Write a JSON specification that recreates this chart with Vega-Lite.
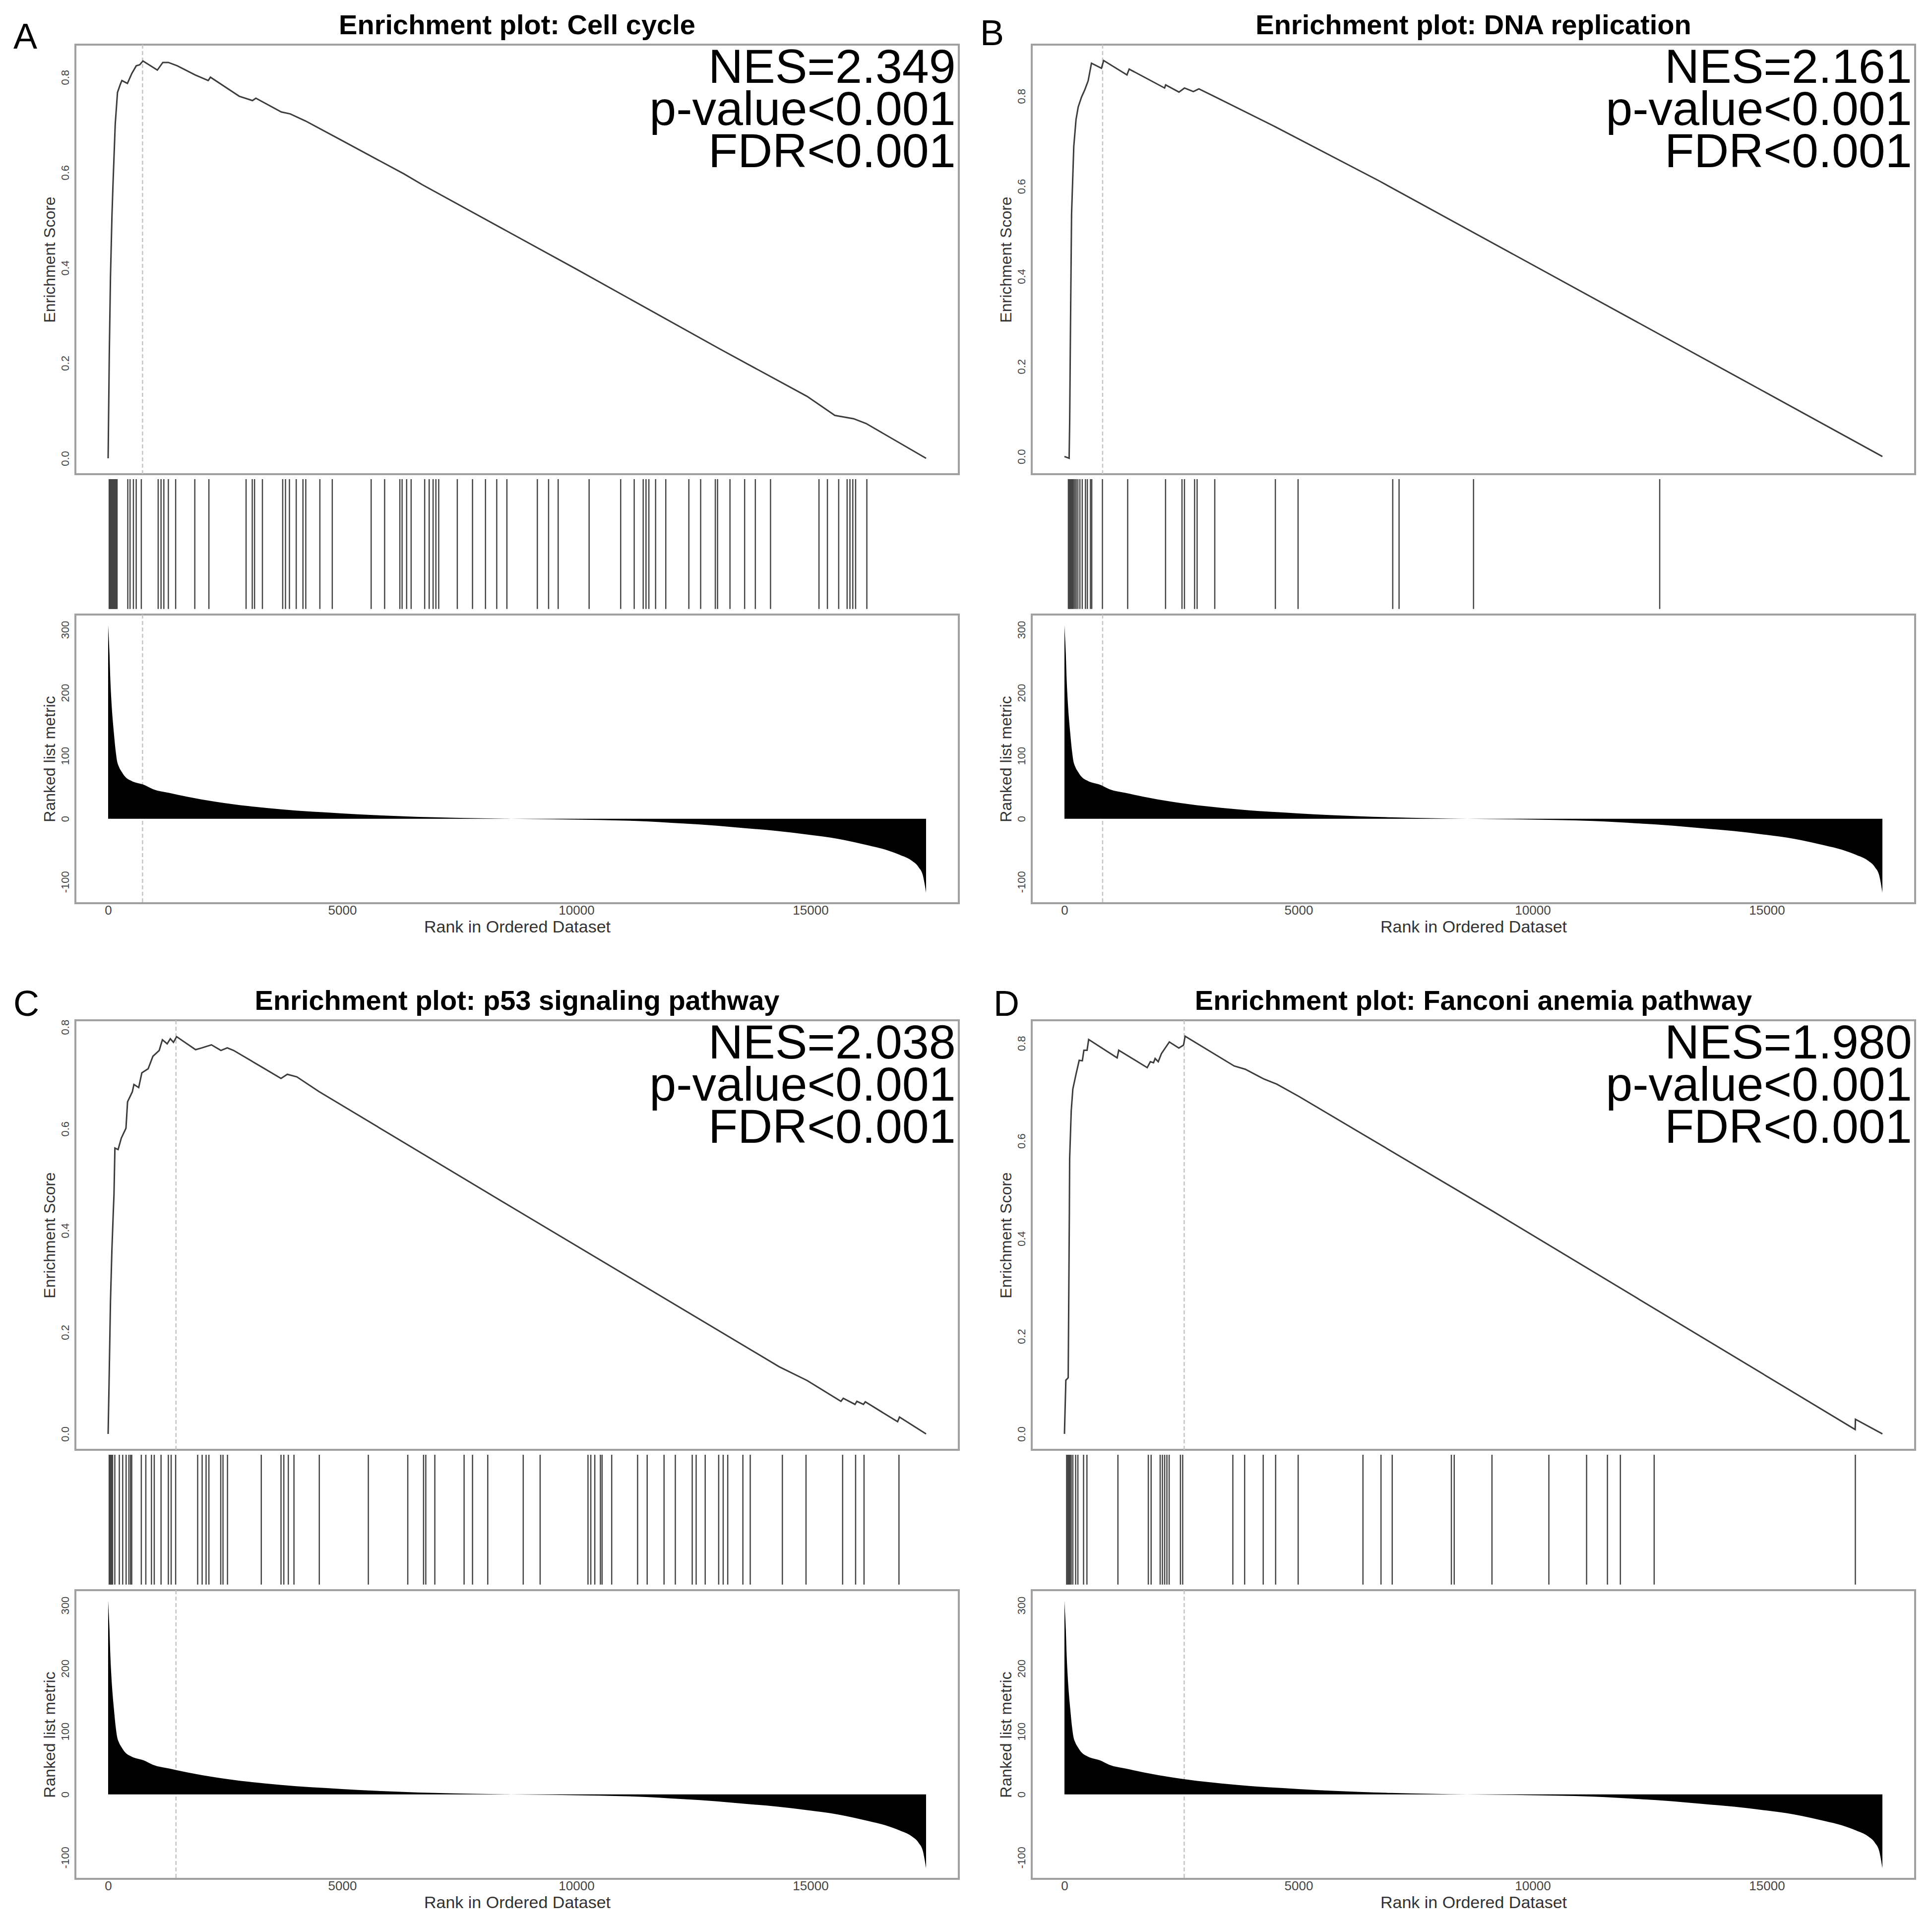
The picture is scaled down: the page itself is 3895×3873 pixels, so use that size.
{
  "$schema": "https://vega.github.io/schema/vega-lite/v6.json",
  "background": "white",
  "padding": {"left": 25, "top": 21, "right": 10, "bottom": 10},
  "autosize": {"type": "pad"},
  "config": {
    "font": "Liberation Sans",
    "view": {"stroke": "#a0a0a0", "strokeWidth": 4},
    "axis": {"grid": false, "ticks": false, "domain": false, "labelFont": "Liberation Sans", "titleFont": "Liberation Sans", "labelColor": "#444", "titleColor": "#333", "titleFontWeight": "normal", "labelExpr": "replace(datum.label, '\u2212', '-')"},
    "axisY": {"labelAngle": -90, "labelAlign": "center", "labelBaseline": "bottom", "labelFontSize": 22, "labelPadding": 9, "titleFontSize": 32, "titlePadding": 0, "minExtent": 35, "maxExtent": 35},
    "axisX": {"labelFontSize": 26, "labelPadding": 1, "titleFontSize": 34, "minExtent": 22, "maxExtent": 22, "titlePadding": 9}
  },
  "datasets": {
    "info": [
      {"p": "A", "letter": "A", "title": "Enrichment plot: Cell cycle", "nes": ["NES=2.349", "p-value<0.001", "FDR<0.001"], "peak": 735},
      {"p": "B", "letter": "B", "title": "Enrichment plot: DNA replication", "nes": ["NES=2.161", "p-value<0.001", "FDR<0.001"], "peak": 815},
      {"p": "C", "letter": "C", "title": "Enrichment plot: p53 signaling pathway", "nes": ["NES=2.038", "p-value<0.001", "FDR<0.001"], "peak": 1449},
      {"p": "D", "letter": "D", "title": "Enrichment plot: Fanconi anemia pathway", "nes": ["NES=1.980", "p-value<0.001", "FDR<0.001"], "peak": 2557}
    ],
    "es": [
      {"p": "A", "rank": 0, "es": 0}, {"p": "A", "rank": 25, "es": 0.22}, {"p": "A", "rank": 50, "es": 0.38}, {"p": "A", "rank": 82, "es": 0.51}, {"p": "A", "rank": 105, "es": 0.578}, {"p": "A", "rank": 152, "es": 0.702}, {"p": "A", "rank": 200, "es": 0.768}, {"p": "A", "rank": 260, "es": 0.785}, {"p": "A", "rank": 294, "es": 0.793}, {"p": "A", "rank": 412, "es": 0.787}, {"p": "A", "rank": 507, "es": 0.808}, {"p": "A", "rank": 601, "es": 0.824}, {"p": "A", "rank": 673, "es": 0.826}, {"p": "A", "rank": 744, "es": 0.834}, {"p": "A", "rank": 1051, "es": 0.815}, {"p": "A", "rank": 1168, "es": 0.831}, {"p": "A", "rank": 1287, "es": 0.831}, {"p": "A", "rank": 1476, "es": 0.824}, {"p": "A", "rank": 1854, "es": 0.805}, {"p": "A", "rank": 2138, "es": 0.793}, {"p": "A", "rank": 2185, "es": 0.8}, {"p": "A", "rank": 2801, "es": 0.76}, {"p": "A", "rank": 3083, "es": 0.751}, {"p": "A", "rank": 3155, "es": 0.756}, {"p": "A", "rank": 3699, "es": 0.727}, {"p": "A", "rank": 3888, "es": 0.723}, {"p": "A", "rank": 4219, "es": 0.708}, {"p": "A", "rank": 4976, "es": 0.668}, {"p": "A", "rank": 6319, "es": 0.597}, {"p": "A", "rank": 6716, "es": 0.574}, {"p": "A", "rank": 10000, "es": 0.397}, {"p": "A", "rank": 13072, "es": 0.229}, {"p": "A", "rank": 14926, "es": 0.13}, {"p": "A", "rank": 15520, "es": 0.09}, {"p": "A", "rank": 15920, "es": 0.083}, {"p": "A", "rank": 16186, "es": 0.073}, {"p": "A", "rank": 17468, "es": 0},
      {"p": "B", "rank": 0, "es": 0}, {"p": "B", "rank": 100, "es": -0.004}, {"p": "B", "rank": 112, "es": 0.08}, {"p": "B", "rank": 130, "es": 0.3}, {"p": "B", "rank": 152, "es": 0.538}, {"p": "B", "rank": 199, "es": 0.688}, {"p": "B", "rank": 247, "es": 0.748}, {"p": "B", "rank": 294, "es": 0.776}, {"p": "B", "rank": 365, "es": 0.798}, {"p": "B", "rank": 434, "es": 0.814}, {"p": "B", "rank": 506, "es": 0.834}, {"p": "B", "rank": 577, "es": 0.873}, {"p": "B", "rank": 790, "es": 0.862}, {"p": "B", "rank": 837, "es": 0.879}, {"p": "B", "rank": 1335, "es": 0.847}, {"p": "B", "rank": 1382, "es": 0.86}, {"p": "B", "rank": 2139, "es": 0.818}, {"p": "B", "rank": 2161, "es": 0.825}, {"p": "B", "rank": 2446, "es": 0.809}, {"p": "B", "rank": 2563, "es": 0.818}, {"p": "B", "rank": 2753, "es": 0.81}, {"p": "B", "rank": 2871, "es": 0.816}, {"p": "B", "rank": 3226, "es": 0.798}, {"p": "B", "rank": 4502, "es": 0.732}, {"p": "B", "rank": 6716, "es": 0.612}, {"p": "B", "rank": 12712, "es": 0.271}, {"p": "B", "rank": 17468, "es": 0},
      {"p": "C", "rank": 0, "es": 0}, {"p": "C", "rank": 20, "es": 0.1}, {"p": "C", "rank": 50, "es": 0.26}, {"p": "C", "rank": 80, "es": 0.36}, {"p": "C", "rank": 111, "es": 0.438}, {"p": "C", "rank": 125, "es": 0.47}, {"p": "C", "rank": 145, "es": 0.562}, {"p": "C", "rank": 213, "es": 0.559}, {"p": "C", "rank": 281, "es": 0.5815}, {"p": "C", "rank": 381, "es": 0.601}, {"p": "C", "rank": 415, "es": 0.653}, {"p": "C", "rank": 517, "es": 0.6726}, {"p": "C", "rank": 551, "es": 0.687}, {"p": "C", "rank": 653, "es": 0.681}, {"p": "C", "rank": 720, "es": 0.71}, {"p": "C", "rank": 855, "es": 0.718}, {"p": "C", "rank": 956, "es": 0.7425}, {"p": "C", "rank": 1091, "es": 0.754}, {"p": "C", "rank": 1159, "es": 0.775}, {"p": "C", "rank": 1261, "es": 0.767}, {"p": "C", "rank": 1328, "es": 0.777}, {"p": "C", "rank": 1395, "es": 0.77}, {"p": "C", "rank": 1463, "es": 0.781}, {"p": "C", "rank": 1868, "es": 0.7555}, {"p": "C", "rank": 2003, "es": 0.759}, {"p": "C", "rank": 2206, "es": 0.765}, {"p": "C", "rank": 2409, "es": 0.754}, {"p": "C", "rank": 2544, "es": 0.759}, {"p": "C", "rank": 2679, "es": 0.754}, {"p": "C", "rank": 3287, "es": 0.721}, {"p": "C", "rank": 3692, "es": 0.699}, {"p": "C", "rank": 3827, "es": 0.707}, {"p": "C", "rank": 4030, "es": 0.702}, {"p": "C", "rank": 4503, "es": 0.673}, {"p": "C", "rank": 8759, "es": 0.438}, {"p": "C", "rank": 14332, "es": 0.132}, {"p": "C", "rank": 14926, "es": 0.105}, {"p": "C", "rank": 15650, "es": 0.064}, {"p": "C", "rank": 15700, "es": 0.07}, {"p": "C", "rank": 15950, "es": 0.058}, {"p": "C", "rank": 15990, "es": 0.064}, {"p": "C", "rank": 16130, "es": 0.058}, {"p": "C", "rank": 16170, "es": 0.063}, {"p": "C", "rank": 16860, "es": 0.024}, {"p": "C", "rank": 16900, "es": 0.033}, {"p": "C", "rank": 17468, "es": 0},
      {"p": "D", "rank": 0, "es": 0}, {"p": "D", "rank": 30, "es": 0.11}, {"p": "D", "rank": 80, "es": 0.115}, {"p": "D", "rank": 105, "es": 0.455}, {"p": "D", "rank": 111, "es": 0.5637}, {"p": "D", "rank": 145, "es": 0.662}, {"p": "D", "rank": 179, "es": 0.706}, {"p": "D", "rank": 247, "es": 0.7365}, {"p": "D", "rank": 315, "es": 0.765}, {"p": "D", "rank": 382, "es": 0.764}, {"p": "D", "rank": 415, "es": 0.7855}, {"p": "D", "rank": 483, "es": 0.7855}, {"p": "D", "rank": 517, "es": 0.8076}, {"p": "D", "rank": 1125, "es": 0.77}, {"p": "D", "rank": 1159, "es": 0.7855}, {"p": "D", "rank": 1767, "es": 0.75}, {"p": "D", "rank": 1835, "es": 0.762}, {"p": "D", "rank": 1902, "es": 0.76}, {"p": "D", "rank": 1936, "es": 0.7686}, {"p": "D", "rank": 2003, "es": 0.762}, {"p": "D", "rank": 2071, "es": 0.7787}, {"p": "D", "rank": 2240, "es": 0.8025}, {"p": "D", "rank": 2443, "es": 0.79}, {"p": "D", "rank": 2543, "es": 0.796}, {"p": "D", "rank": 2577, "es": 0.8143}, {"p": "D", "rank": 3625, "es": 0.7533}, {"p": "D", "rank": 3861, "es": 0.7466}, {"p": "D", "rank": 4266, "es": 0.7263}, {"p": "D", "rank": 4537, "es": 0.716}, {"p": "D", "rank": 5010, "es": 0.6907}, {"p": "D", "rank": 9163, "es": 0.455}, {"p": "D", "rank": 16886, "es": 0.009}, {"p": "D", "rank": 16892, "es": 0.03}, {"p": "D", "rank": 17468, "es": 0}
    ],
    "hits": [
      {"p": "A", "rank": 23}, {"p": "A", "rank": 35}, {"p": "A", "rank": 47}, {"p": "A", "rank": 59}, {"p": "A", "rank": 71}, {"p": "A", "rank": 83}, {"p": "A", "rank": 95}, {"p": "A", "rank": 107}, {"p": "A", "rank": 119}, {"p": "A", "rank": 131}, {"p": "A", "rank": 143}, {"p": "A", "rank": 155}, {"p": "A", "rank": 167}, {"p": "A", "rank": 179}, {"p": "A", "rank": 191}, {"p": "A", "rank": 420}, {"p": "A", "rank": 468}, {"p": "A", "rank": 540}, {"p": "A", "rank": 600}, {"p": "A", "rank": 709}, {"p": "A", "rank": 1069}, {"p": "A", "rank": 1130}, {"p": "A", "rank": 1190}, {"p": "A", "rank": 1286}, {"p": "A", "rank": 1442}, {"p": "A", "rank": 1851}, {"p": "A", "rank": 2152}, {"p": "A", "rank": 2946}, {"p": "A", "rank": 3078}, {"p": "A", "rank": 3127}, {"p": "A", "rank": 3295}, {"p": "A", "rank": 3728}, {"p": "A", "rank": 3788}, {"p": "A", "rank": 3872}, {"p": "A", "rank": 4017}, {"p": "A", "rank": 4161}, {"p": "A", "rank": 4221}, {"p": "A", "rank": 4522}, {"p": "A", "rank": 4787}, {"p": "A", "rank": 5617}, {"p": "A", "rank": 5905}, {"p": "A", "rank": 6230}, {"p": "A", "rank": 6278}, {"p": "A", "rank": 6375}, {"p": "A", "rank": 6471}, {"p": "A", "rank": 6760}, {"p": "A", "rank": 6856}, {"p": "A", "rank": 6940}, {"p": "A", "rank": 7000}, {"p": "A", "rank": 7060}, {"p": "A", "rank": 7457}, {"p": "A", "rank": 7782}, {"p": "A", "rank": 8059}, {"p": "A", "rank": 8299}, {"p": "A", "rank": 8516}, {"p": "A", "rank": 9166}, {"p": "A", "rank": 9406}, {"p": "A", "rank": 9611}, {"p": "A", "rank": 10272}, {"p": "A", "rank": 10946}, {"p": "A", "rank": 11235}, {"p": "A", "rank": 11427}, {"p": "A", "rank": 11487}, {"p": "A", "rank": 11548}, {"p": "A", "rank": 11692}, {"p": "A", "rank": 11909}, {"p": "A", "rank": 12402}, {"p": "A", "rank": 12654}, {"p": "A", "rank": 12967}, {"p": "A", "rank": 13015}, {"p": "A", "rank": 13280}, {"p": "A", "rank": 13593}, {"p": "A", "rank": 13822}, {"p": "A", "rank": 14146}, {"p": "A", "rank": 15181}, {"p": "A", "rank": 15361}, {"p": "A", "rank": 15602}, {"p": "A", "rank": 15782}, {"p": "A", "rank": 15842}, {"p": "A", "rank": 15903}, {"p": "A", "rank": 15963}, {"p": "A", "rank": 16203},
      {"p": "B", "rank": 84}, {"p": "B", "rank": 100}, {"p": "B", "rank": 115}, {"p": "B", "rank": 130}, {"p": "B", "rank": 151}, {"p": "B", "rank": 170}, {"p": "B", "rank": 190}, {"p": "B", "rank": 219}, {"p": "B", "rank": 250}, {"p": "B", "rank": 286}, {"p": "B", "rank": 330}, {"p": "B", "rank": 380}, {"p": "B", "rank": 448}, {"p": "B", "rank": 489}, {"p": "B", "rank": 555}, {"p": "B", "rank": 583}, {"p": "B", "rank": 811}, {"p": "B", "rank": 1350}, {"p": "B", "rank": 2159}, {"p": "B", "rank": 2510}, {"p": "B", "rank": 2563}, {"p": "B", "rank": 2779}, {"p": "B", "rank": 2833}, {"p": "B", "rank": 3210}, {"p": "B", "rank": 4504}, {"p": "B", "rank": 4989}, {"p": "B", "rank": 7011}, {"p": "B", "rank": 7146}, {"p": "B", "rank": 8736}, {"p": "B", "rank": 12712},
      {"p": "C", "rank": 23}, {"p": "C", "rank": 40}, {"p": "C", "rank": 59}, {"p": "C", "rank": 77}, {"p": "C", "rank": 95}, {"p": "C", "rank": 143}, {"p": "C", "rank": 239}, {"p": "C", "rank": 311}, {"p": "C", "rank": 384}, {"p": "C", "rank": 444}, {"p": "C", "rank": 480}, {"p": "C", "rank": 504}, {"p": "C", "rank": 709}, {"p": "C", "rank": 805}, {"p": "C", "rank": 925}, {"p": "C", "rank": 985}, {"p": "C", "rank": 1130}, {"p": "C", "rank": 1286}, {"p": "C", "rank": 1346}, {"p": "C", "rank": 1442}, {"p": "C", "rank": 1912}, {"p": "C", "rank": 2008}, {"p": "C", "rank": 2092}, {"p": "C", "rank": 2152}, {"p": "C", "rank": 2405}, {"p": "C", "rank": 2453}, {"p": "C", "rank": 2549}, {"p": "C", "rank": 3271}, {"p": "C", "rank": 3692}, {"p": "C", "rank": 3752}, {"p": "C", "rank": 3848}, {"p": "C", "rank": 3969}, {"p": "C", "rank": 4510}, {"p": "C", "rank": 5557}, {"p": "C", "rank": 6399}, {"p": "C", "rank": 6736}, {"p": "C", "rank": 6784}, {"p": "C", "rank": 6977}, {"p": "C", "rank": 7602}, {"p": "C", "rank": 7782}, {"p": "C", "rank": 8107}, {"p": "C", "rank": 8865}, {"p": "C", "rank": 9226}, {"p": "C", "rank": 10248}, {"p": "C", "rank": 10308}, {"p": "C", "rank": 10393}, {"p": "C", "rank": 10513}, {"p": "C", "rank": 10549}, {"p": "C", "rank": 10754}, {"p": "C", "rank": 11307}, {"p": "C", "rank": 11512}, {"p": "C", "rank": 11872}, {"p": "C", "rank": 12113}, {"p": "C", "rank": 12474}, {"p": "C", "rank": 12558}, {"p": "C", "rank": 12751}, {"p": "C", "rank": 13039}, {"p": "C", "rank": 13135}, {"p": "C", "rank": 13232}, {"p": "C", "rank": 13556}, {"p": "C", "rank": 13713}, {"p": "C", "rank": 14399}, {"p": "C", "rank": 14904}, {"p": "C", "rank": 15686}, {"p": "C", "rank": 15963}, {"p": "C", "rank": 16143}, {"p": "C", "rank": 16889},
      {"p": "D", "rank": 47}, {"p": "D", "rank": 60}, {"p": "D", "rank": 83}, {"p": "D", "rank": 100}, {"p": "D", "rank": 119}, {"p": "D", "rank": 143}, {"p": "D", "rank": 179}, {"p": "D", "rank": 239}, {"p": "D", "rank": 287}, {"p": "D", "rank": 408}, {"p": "D", "rank": 480}, {"p": "D", "rank": 1142}, {"p": "D", "rank": 1791}, {"p": "D", "rank": 1851}, {"p": "D", "rank": 2044}, {"p": "D", "rank": 2092}, {"p": "D", "rank": 2140}, {"p": "D", "rank": 2188}, {"p": "D", "rank": 2236}, {"p": "D", "rank": 2477}, {"p": "D", "rank": 2525}, {"p": "D", "rank": 3596}, {"p": "D", "rank": 3848}, {"p": "D", "rank": 4245}, {"p": "D", "rank": 4510}, {"p": "D", "rank": 4991}, {"p": "D", "rank": 6375}, {"p": "D", "rank": 6760}, {"p": "D", "rank": 7000}, {"p": "D", "rank": 8263}, {"p": "D", "rank": 8324}, {"p": "D", "rank": 9130}, {"p": "D", "rank": 10345}, {"p": "D", "rank": 11151}, {"p": "D", "rank": 11596}, {"p": "D", "rank": 11872}, {"p": "D", "rank": 12594}, {"p": "D", "rank": 16890}
    ],
    "metric": [
      {"rank": 0, "metric": 307}, {"rank": 15, "metric": 285}, {"rank": 29, "metric": 262}, {"rank": 45, "metric": 225}, {"rank": 69, "metric": 188}, {"rank": 95, "metric": 160}, {"rank": 122, "metric": 137}, {"rank": 162, "metric": 107}, {"rank": 190, "metric": 92}, {"rank": 228, "metric": 83}, {"rank": 294, "metric": 74}, {"rank": 360, "metric": 67}, {"rank": 500, "metric": 60}, {"rank": 757, "metric": 54}, {"rank": 955, "metric": 47}, {"rank": 1300, "metric": 41}, {"rank": 1684, "metric": 35}, {"rank": 2300, "metric": 27}, {"rank": 3008, "metric": 20}, {"rank": 3700, "metric": 15}, {"rank": 4333, "metric": 11.3}, {"rank": 5000, "metric": 8.5}, {"rank": 5657, "metric": 5.8}, {"rank": 6300, "metric": 4}, {"rank": 6981, "metric": 2.3}, {"rank": 7800, "metric": 1}, {"rank": 8600, "metric": 0}, {"rank": 9500, "metric": -0.8}, {"rank": 10500, "metric": -2}, {"rank": 11300, "metric": -3.5}, {"rank": 12278, "metric": -7.5}, {"rank": 13000, "metric": -11}, {"rank": 13602, "metric": -15}, {"rank": 14300, "metric": -19.5}, {"rank": 14926, "metric": -25}, {"rank": 15600, "metric": -32}, {"rank": 16250, "metric": -42.5}, {"rank": 16600, "metric": -49}, {"rank": 16912, "metric": -57.5}, {"rank": 17150, "metric": -66}, {"rank": 17309, "metric": -77}, {"rank": 17400, "metric": -90}, {"rank": 17441, "metric": -105}, {"rank": 17468, "metric": -117}
    ]
  },
  "bounds": "flush",
  "columns": 2,
  "spacing": {"row": 0, "column": 147},
  "resolve": {"scale": {"x": "independent", "y": "independent"}},
  "concat": [
    {
      "width": 1781, "height": 866,
      "layer": [
        {"data": {"name": "info"}, "transform": [{"filter": "datum.p == 'A'"}],
         "mark": {"type": "rule", "color": "#c4c4c4", "strokeWidth": 2.5, "strokeDash": [8, 5]},
         "encoding": {"x": {"field": "peak", "type": "quantitative", "scale": {"domain": [-699, 18167], "nice": false, "zero": false}, "axis": null}}},
        {"data": {"name": "es"}, "transform": [{"filter": "datum.p == 'A'"}],
         "mark": {"type": "line", "color": "#3c3c3c", "strokeWidth": 3},
         "encoding": {
           "x": {"field": "rank", "type": "quantitative"},
           "y": {"field": "es", "type": "quantitative", "scale": {"domain": [-0.0334, 0.8684], "nice": false, "zero": false}, "axis": {"title": "Enrichment Score", "values": [0, 0.2, 0.4, 0.6, 0.8], "format": ".1f"}}}},
        {"data": {"name": "info"}, "transform": [{"filter": "datum.p == 'A'"}],
         "mark": {"type": "text", "align": "right", "baseline": "alphabetic", "fontSize": 97, "lineHeight": 85, "color": "#000"},
         "encoding": {"x": {"datum": 18101}, "y": {"datum": 0.7882}, "text": {"field": "nes"}}},
        {"data": {"name": "info"}, "transform": [{"filter": "datum.p == 'A'"}],
         "mark": {"type": "text", "align": "center", "baseline": "alphabetic", "fontSize": 56, "fontWeight": "bold", "color": "#000"},
         "encoding": {"x": {"datum": 8734}, "y": {"datum": 0.8903}, "text": {"field": "title"}}},
        {"data": {"name": "info"}, "transform": [{"filter": "datum.p == 'A'"}],
         "mark": {"type": "text", "align": "left", "baseline": "alphabetic", "fontSize": 72, "color": "#000"},
         "encoding": {"x": {"datum": -2023}, "y": {"datum": 0.86}, "text": {"field": "letter"}}}
      ]
    },
    {
      "width": 1781, "height": 866,
      "layer": [
        {"data": {"name": "info"}, "transform": [{"filter": "datum.p == 'B'"}],
         "mark": {"type": "rule", "color": "#c4c4c4", "strokeWidth": 2.5, "strokeDash": [8, 5]},
         "encoding": {"x": {"field": "peak", "type": "quantitative", "scale": {"domain": [-699, 18167], "nice": false, "zero": false}, "axis": null}}},
        {"data": {"name": "es"}, "transform": [{"filter": "datum.p == 'B'"}],
         "mark": {"type": "line", "color": "#3c3c3c", "strokeWidth": 3},
         "encoding": {
           "x": {"field": "rank", "type": "quantitative"},
           "y": {"field": "es", "type": "quantitative", "scale": {"domain": [-0.0393, 0.9143], "nice": false, "zero": false}, "axis": {"title": "Enrichment Score", "values": [0, 0.2, 0.4, 0.6, 0.8], "format": ".1f"}}}},
        {"data": {"name": "info"}, "transform": [{"filter": "datum.p == 'B'"}],
         "mark": {"type": "text", "align": "right", "baseline": "alphabetic", "fontSize": 97, "lineHeight": 85, "color": "#000"},
         "encoding": {"x": {"datum": 18101}, "y": {"datum": 0.8295}, "text": {"field": "nes"}}},
        {"data": {"name": "info"}, "transform": [{"filter": "datum.p == 'B'"}],
         "mark": {"type": "text", "align": "center", "baseline": "alphabetic", "fontSize": 56, "fontWeight": "bold", "color": "#000"},
         "encoding": {"x": {"datum": 8734}, "y": {"datum": 0.9374}, "text": {"field": "title"}}},
        {"data": {"name": "info"}, "transform": [{"filter": "datum.p == 'B'"}],
         "mark": {"type": "text", "align": "left", "baseline": "alphabetic", "fontSize": 72, "color": "#000"},
         "encoding": {"x": {"datum": -1801}, "y": {"datum": 0.9132}, "text": {"field": "letter"}}}
      ]
    },
    {
      "width": 1781, "height": 283, "view": {"stroke": null},
      "data": {"name": "hits"}, "transform": [{"filter": "datum.p == 'A'"}],
      "mark": {"type": "rule", "color": "#444", "strokeWidth": 2.5},
      "encoding": {
        "x": {"field": "rank", "type": "quantitative", "scale": {"domain": [-699, 18167], "nice": false, "zero": false}, "axis": null},
        "y": {"datum": 0.04, "scale": {"domain": [0, 1]}, "axis": null},
        "y2": {"datum": 0.965}}
    },
    {
      "width": 1781, "height": 283, "view": {"stroke": null},
      "data": {"name": "hits"}, "transform": [{"filter": "datum.p == 'B'"}],
      "mark": {"type": "rule", "color": "#444", "strokeWidth": 2.5},
      "encoding": {
        "x": {"field": "rank", "type": "quantitative", "scale": {"domain": [-699, 18167], "nice": false, "zero": false}, "axis": null},
        "y": {"datum": 0.04, "scale": {"domain": [0, 1]}, "axis": null},
        "y2": {"datum": 0.965}}
    },
    {
      "width": 1781, "height": 582,
      "layer": [
        {"data": {"name": "info"}, "transform": [{"filter": "datum.p == 'A'"}],
         "mark": {"type": "rule", "color": "#c4c4c4", "strokeWidth": 2.5, "strokeDash": [8, 5]},
         "encoding": {"x": {"field": "peak", "type": "quantitative", "scale": {"domain": [-699, 18167], "nice": false, "zero": false}, "axis": {"title": "Rank in Ordered Dataset", "values": [0, 5000, 10000, 15000], "format": "d"}}}},
        {"data": {"name": "metric"},
         "mark": {"type": "area", "color": "#000", "interpolate": "monotone"},
         "encoding": {
           "x": {"field": "rank", "type": "quantitative"},
           "y": {"field": "metric", "type": "quantitative", "scale": {"domain": [-134, 324], "nice": false, "zero": false}, "axis": {"title": "Ranked list metric", "values": [-100, 0, 100, 200, 300]}},
           "y2": {"datum": 0}}}
      ]
    },
    {
      "width": 1781, "height": 582,
      "layer": [
        {"data": {"name": "info"}, "transform": [{"filter": "datum.p == 'B'"}],
         "mark": {"type": "rule", "color": "#c4c4c4", "strokeWidth": 2.5, "strokeDash": [8, 5]},
         "encoding": {"x": {"field": "peak", "type": "quantitative", "scale": {"domain": [-699, 18167], "nice": false, "zero": false}, "axis": {"title": "Rank in Ordered Dataset", "values": [0, 5000, 10000, 15000], "format": "d"}}}},
        {"data": {"name": "metric"},
         "mark": {"type": "area", "color": "#000", "interpolate": "monotone"},
         "encoding": {
           "x": {"field": "rank", "type": "quantitative"},
           "y": {"field": "metric", "type": "quantitative", "scale": {"domain": [-134, 324], "nice": false, "zero": false}, "axis": {"title": "Ranked list metric", "values": [-100, 0, 100, 200, 300]}},
           "y2": {"datum": 0}}}
      ]
    },
    {
      "width": 1781, "height": 236, "view": {"stroke": null},
      "data": {"values": []},
      "mark": "point"
    },
    {
      "width": 1781, "height": 236, "view": {"stroke": null},
      "data": {"values": []},
      "mark": "point"
    },
    {
      "width": 1781, "height": 866,
      "layer": [
        {"data": {"name": "info"}, "transform": [{"filter": "datum.p == 'C'"}],
         "mark": {"type": "rule", "color": "#c4c4c4", "strokeWidth": 2.5, "strokeDash": [8, 5]},
         "encoding": {"x": {"field": "peak", "type": "quantitative", "scale": {"domain": [-699, 18167], "nice": false, "zero": false}, "axis": null}}},
        {"data": {"name": "es"}, "transform": [{"filter": "datum.p == 'C'"}],
         "mark": {"type": "line", "color": "#3c3c3c", "strokeWidth": 3},
         "encoding": {
           "x": {"field": "rank", "type": "quantitative"},
           "y": {"field": "es", "type": "quantitative", "scale": {"domain": [-0.0313, 0.8133], "nice": false, "zero": false}, "axis": {"title": "Enrichment Score", "values": [0, 0.2, 0.4, 0.6, 0.8], "format": ".1f"}}}},
        {"data": {"name": "info"}, "transform": [{"filter": "datum.p == 'C'"}],
         "mark": {"type": "text", "align": "right", "baseline": "alphabetic", "fontSize": 97, "lineHeight": 85, "color": "#000"},
         "encoding": {"x": {"datum": 18101}, "y": {"datum": 0.7382}, "text": {"field": "nes"}}},
        {"data": {"name": "info"}, "transform": [{"filter": "datum.p == 'C'"}],
         "mark": {"type": "text", "align": "center", "baseline": "alphabetic", "fontSize": 56, "fontWeight": "bold", "color": "#000"},
         "encoding": {"x": {"datum": 8734}, "y": {"datum": 0.8338}, "text": {"field": "title"}}},
        {"data": {"name": "info"}, "transform": [{"filter": "datum.p == 'C'"}],
         "mark": {"type": "text", "align": "left", "baseline": "alphabetic", "fontSize": 72, "color": "#000"},
         "encoding": {"x": {"datum": -2023}, "y": {"datum": 0.8221}, "text": {"field": "letter"}}}
      ]
    },
    {
      "width": 1781, "height": 866,
      "layer": [
        {"data": {"name": "info"}, "transform": [{"filter": "datum.p == 'D'"}],
         "mark": {"type": "rule", "color": "#c4c4c4", "strokeWidth": 2.5, "strokeDash": [8, 5]},
         "encoding": {"x": {"field": "peak", "type": "quantitative", "scale": {"domain": [-699, 18167], "nice": false, "zero": false}, "axis": null}}},
        {"data": {"name": "es"}, "transform": [{"filter": "datum.p == 'D'"}],
         "mark": {"type": "line", "color": "#3c3c3c", "strokeWidth": 3},
         "encoding": {
           "x": {"field": "rank", "type": "quantitative"},
           "y": {"field": "es", "type": "quantitative", "scale": {"domain": [-0.0326, 0.8469], "nice": false, "zero": false}, "axis": {"title": "Enrichment Score", "values": [0, 0.2, 0.4, 0.6, 0.8], "format": ".1f"}}}},
        {"data": {"name": "info"}, "transform": [{"filter": "datum.p == 'D'"}],
         "mark": {"type": "text", "align": "right", "baseline": "alphabetic", "fontSize": 97, "lineHeight": 85, "color": "#000"},
         "encoding": {"x": {"datum": 18101}, "y": {"datum": 0.7687}, "text": {"field": "nes"}}},
        {"data": {"name": "info"}, "transform": [{"filter": "datum.p == 'D'"}],
         "mark": {"type": "text", "align": "center", "baseline": "alphabetic", "fontSize": 56, "fontWeight": "bold", "color": "#000"},
         "encoding": {"x": {"datum": 8734}, "y": {"datum": 0.8682}, "text": {"field": "title"}}},
        {"data": {"name": "info"}, "transform": [{"filter": "datum.p == 'D'"}],
         "mark": {"type": "text", "align": "left", "baseline": "alphabetic", "fontSize": 72, "color": "#000"},
         "encoding": {"x": {"datum": -1515}, "y": {"datum": 0.856}, "text": {"field": "letter"}}}
      ]
    },
    {
      "width": 1781, "height": 283, "view": {"stroke": null},
      "data": {"name": "hits"}, "transform": [{"filter": "datum.p == 'C'"}],
      "mark": {"type": "rule", "color": "#444", "strokeWidth": 2.5},
      "encoding": {
        "x": {"field": "rank", "type": "quantitative", "scale": {"domain": [-699, 18167], "nice": false, "zero": false}, "axis": null},
        "y": {"datum": 0.04, "scale": {"domain": [0, 1]}, "axis": null},
        "y2": {"datum": 0.965}}
    },
    {
      "width": 1781, "height": 283, "view": {"stroke": null},
      "data": {"name": "hits"}, "transform": [{"filter": "datum.p == 'D'"}],
      "mark": {"type": "rule", "color": "#444", "strokeWidth": 2.5},
      "encoding": {
        "x": {"field": "rank", "type": "quantitative", "scale": {"domain": [-699, 18167], "nice": false, "zero": false}, "axis": null},
        "y": {"datum": 0.04, "scale": {"domain": [0, 1]}, "axis": null},
        "y2": {"datum": 0.965}}
    },
    {
      "width": 1781, "height": 582,
      "layer": [
        {"data": {"name": "info"}, "transform": [{"filter": "datum.p == 'C'"}],
         "mark": {"type": "rule", "color": "#c4c4c4", "strokeWidth": 2.5, "strokeDash": [8, 5]},
         "encoding": {"x": {"field": "peak", "type": "quantitative", "scale": {"domain": [-699, 18167], "nice": false, "zero": false}, "axis": {"title": "Rank in Ordered Dataset", "values": [0, 5000, 10000, 15000], "format": "d"}}}},
        {"data": {"name": "metric"},
         "mark": {"type": "area", "color": "#000", "interpolate": "monotone"},
         "encoding": {
           "x": {"field": "rank", "type": "quantitative"},
           "y": {"field": "metric", "type": "quantitative", "scale": {"domain": [-134, 324], "nice": false, "zero": false}, "axis": {"title": "Ranked list metric", "values": [-100, 0, 100, 200, 300]}},
           "y2": {"datum": 0}}}
      ]
    },
    {
      "width": 1781, "height": 582,
      "layer": [
        {"data": {"name": "info"}, "transform": [{"filter": "datum.p == 'D'"}],
         "mark": {"type": "rule", "color": "#c4c4c4", "strokeWidth": 2.5, "strokeDash": [8, 5]},
         "encoding": {"x": {"field": "peak", "type": "quantitative", "scale": {"domain": [-699, 18167], "nice": false, "zero": false}, "axis": {"title": "Rank in Ordered Dataset", "values": [0, 5000, 10000, 15000], "format": "d"}}}},
        {"data": {"name": "metric"},
         "mark": {"type": "area", "color": "#000", "interpolate": "monotone"},
         "encoding": {
           "x": {"field": "rank", "type": "quantitative"},
           "y": {"field": "metric", "type": "quantitative", "scale": {"domain": [-134, 324], "nice": false, "zero": false}, "axis": {"title": "Ranked list metric", "values": [-100, 0, 100, 200, 300]}},
           "y2": {"datum": 0}}}
      ]
    }
  ]
}
